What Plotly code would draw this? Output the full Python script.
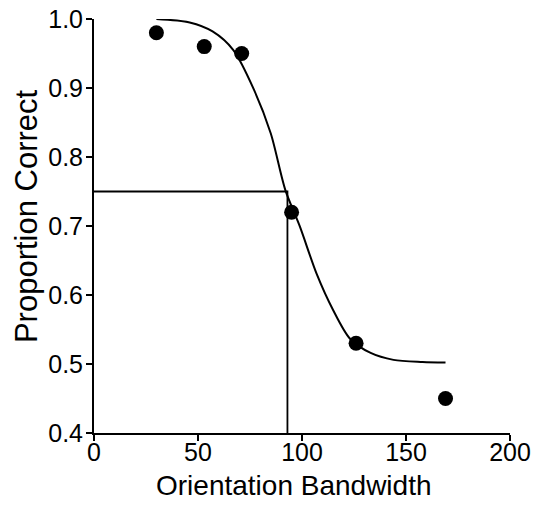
import plotly.graph_objects as go

# Observed proportion correct at each orientation bandwidth
bandwidth = [30, 53, 71, 95, 126, 169]
proportion = [0.98, 0.96, 0.95, 0.72, 0.53, 0.45]

# Fitted psychometric function, sampled along its length
fit_x = [30, 46, 57, 67, 77, 85, 92, 99, 107, 115, 123, 133, 144, 158, 169]
fit_y = [1.0, 0.995, 0.982, 0.955, 0.897, 0.834, 0.752, 0.699, 0.631, 0.578,
         0.537, 0.516, 0.506, 0.503, 0.502]

# 75% threshold
threshold_level = 0.75
threshold_x = 93

x_ticks = [0, 50, 100, 150, 200]
y_ticks = [0.4, 0.5, 0.6, 0.7, 0.8, 0.9, 1.0]

FONT = "Liberation Sans, Arial, sans-serif"

fig = go.Figure()

fig.add_trace(go.Scatter(
    x=[0, threshold_x, threshold_x], y=[threshold_level, threshold_level, 0.4],
    mode="lines", line=dict(color="black", width=1.8), hoverinfo="skip",
))
fig.add_trace(go.Scatter(
    x=fit_x, y=fit_y, mode="lines",
    line=dict(color="black", width=2, shape="spline", smoothing=0.8),
))
fig.add_trace(go.Scatter(
    x=bandwidth, y=proportion, mode="markers",
    marker=dict(color="black", size=15),
))

axis_common = dict(
    showgrid=False, zeroline=False, showline=True, linecolor="black", linewidth=2,
    ticks="outside", ticklen=6, tickwidth=2, tickcolor="black", automargin=False,
    tickfont=dict(family=FONT, size=25, color="black"),
)

fig.update_layout(
    width=533, height=508,
    margin=dict(l=94, r=23, t=19, b=75, autoexpand=False),
    paper_bgcolor="white", plot_bgcolor="white",
    showlegend=False,
    xaxis=dict(range=[0, 200], tickvals=x_ticks, ticktext=[str(v) for v in x_ticks],
               ticklabelstandoff=-10, **axis_common),
    yaxis=dict(range=[0.4, 1.0], tickvals=y_ticks, ticktext=[f"{v:.1f}" for v in y_ticks],
               ticklabelstandoff=-2, **axis_common),
)

# Axis titles placed as annotations
fig.add_annotation(
    text="Orientation Bandwidth", showarrow=False,
    xref="paper", yref="paper", x=0.481, y=0, xanchor="center", yanchor="middle",
    yshift=-52, font=dict(family=FONT, size=28, color="black"),
)
fig.add_annotation(
    text="Proportion Correct", textangle=-90, showarrow=False,
    xref="paper", yref="paper", x=0, y=0.524, xanchor="center", yanchor="middle",
    xshift=-68, font=dict(family=FONT, size=31, color="black"),
)

fig.write_html("out.html")
